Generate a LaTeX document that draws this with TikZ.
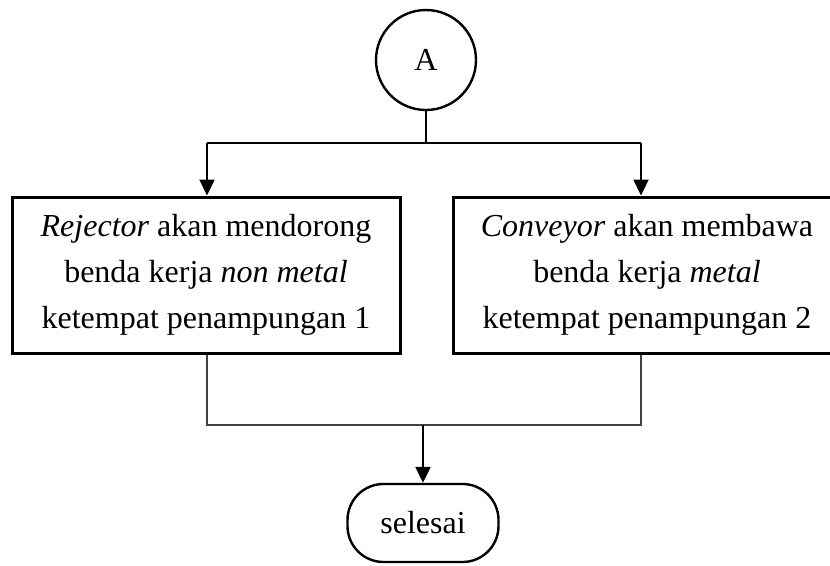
\documentclass[tikz,border=0pt]{standalone}
\usepackage{fontspec}
\setmainfont{Liberation Serif}
\usetikzlibrary{arrows.meta}

\tikzset{
  base/.style={font=\fontsize{32}{46}\selectfont, text=black},
  connector/.style={draw=black, line width=2.2pt},
  feed/.style={draw=black!75, line width=1.7pt},
  arrowed/.style={-{Triangle[width=15pt,length=16pt]}},
  connectorcircle/.style={base, circle, draw, line width=2.4pt, minimum size=100pt, inner sep=0pt},
  processbox/.style={base, rectangle, draw, line width=3pt, minimum width=388pt,
    minimum height=156pt, align=center, inner sep=0pt},
  terminal/.style={base, rectangle, rounded corners=36pt, draw, line width=2.4pt,
    minimum width=151pt, minimum height=78pt, inner sep=0pt}
}

\begin{document}
\begin{tikzpicture}[x=1pt, y=-1pt]
  \useasboundingbox (0,0) rectangle (830,565);
  \clip (0,0) rectangle (830,565);

  % off-page connector
  \node[connectorcircle] (A) at (426,60) {A};

  % two process steps
  \node[processbox] (L) at (206,275)
    {\textit{Rejector} akan mendorong\\benda kerja \textit{non metal}\\ketempat penampungan 1};
  \node[processbox] (R) at (647,275)
    {\textit{Conveyor} akan membawa\\benda kerja \textit{metal}\\ketempat penampungan 2};

  % end terminal
  \node[terminal] (E) at (423,523) {selesai};

  % branching from the connector
  \coordinate (split) at (426,143);
  \coordinate (splitL) at (207,143);
  \coordinate (splitR) at (641,143);
  \draw[connector] (A.south) -- (split);
  \draw[connector] (splitL) -- (splitR);
  \draw[connector, arrowed] (splitL) -- (splitL |- L.north);
  \draw[connector, arrowed] (splitR) -- (splitR |- R.north);

  % merging into the terminal
  \coordinate (merge) at (423,425);
  \draw[feed] (splitL |- L.south) |- (merge) -| (splitR |- R.south);
  \draw[connector, arrowed] (merge) -- (E.north);
\end{tikzpicture}
\end{document}
